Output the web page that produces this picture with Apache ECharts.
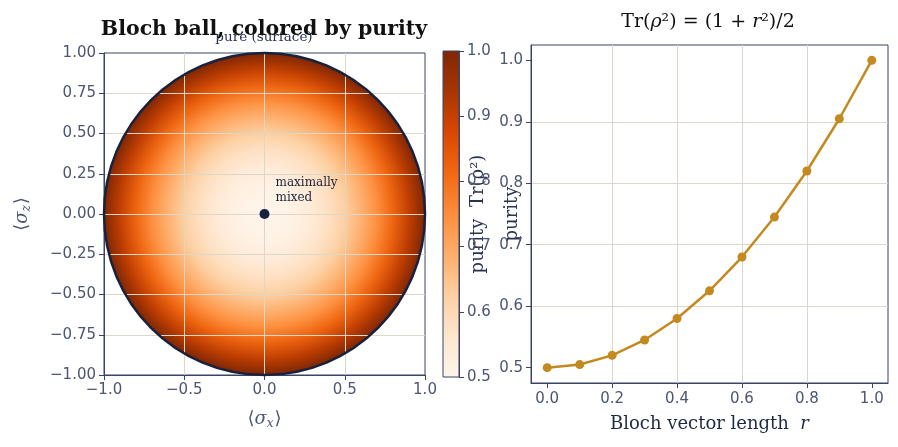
<!DOCTYPE html>
<html><head><meta charset="utf-8">
<script src="https://cdn.jsdelivr.net/npm/echarts@6/dist/echarts.min.js"></script>
<style>html,body{margin:0;padding:0;background:#fff}#c{width:898px;height:447px}</style>
</head><body><div id="c"></div>
<script>
// ---- data ----
const rValues = [0.0, 0.1, 0.2, 0.3, 0.4, 0.5, 0.6, 0.7, 0.8, 0.9, 1.0];
const purityValues = [0.5, 0.505, 0.52, 0.545, 0.58, 0.625, 0.68, 0.745, 0.82, 0.905, 1.0];
const ballCenter = [0, 0];
const ballRadius = 1;
const purityRange = [0.5, 1.0];
const ballXTicks = [-1, -0.5, 0, 0.5, 1];
const ballZTicks = [-1, -0.75, -0.5, -0.25, 0, 0.25, 0.5, 0.75, 1];
const colorbarTicks = [0.5, 0.6, 0.7, 0.8, 0.9, 1.0];
const lineXTicks = [0.0, 0.2, 0.4, 0.6, 0.8, 1.0];
const lineYTicks = [0.5, 0.6, 0.7, 0.8, 0.9, 1.0];
const orangesColors = ['#fff5eb','#fee6ce','#fdd0a2','#fdae6b','#fd8d3c','#f16913','#d94801','#a63603','#7f2704'];

// ---- styles ----
const axisColor = '#3b4466';
const tickLabelColor = '#4b5574';
const gridColor = '#ddd7c7';
const navy = '#18223d';
const lineColor = '#c4891f';
const sans = 'DejaVu Sans';
const serif = 'DejaVu Serif';

function hexToRgb(h){ return [parseInt(h.slice(1,3),16), parseInt(h.slice(3,5),16), parseInt(h.slice(5,7),16)]; }
function cmap(p){
  let t = (p - purityRange[0]) / (purityRange[1] - purityRange[0]);
  t = Math.max(0, Math.min(1, t));
  const pos = t * (orangesColors.length - 1);
  const i = Math.min(Math.floor(pos), orangesColors.length - 2);
  const f = pos - i;
  const a = hexToRgb(orangesColors[i]), b = hexToRgb(orangesColors[i+1]);
  const c = a.map((v, k) => Math.round(v + (b[k] - v) * f));
  return 'rgb(' + c.join(',') + ')';
}
function fmt(v, d){ return (v < -1e-9 ? '\u2212' : '') + Math.abs(v).toFixed(d); }

const diskGradient = {
  type: 'radial', x: 0.5, y: 0.5, r: 0.5,
  colorStops: rValues.map((r, i) => ({ offset: r / ballRadius, color: cmap(purityValues[i]) }))
};
const barGradient = {
  type: 'linear', x: 0, y: 1, x2: 0, y2: 0,
  colorStops: orangesColors.map((c, i) => ({ offset: i / (orangesColors.length - 1), color: c }))
};

const tickLabel = { color: tickLabelColor, fontFamily: sans, fontSize: 15 };
const splitStyle = { show: true, showMinLine: false, showMaxLine: false, lineStyle: { color: gridColor, width: 1 } };
const subRich = {
  b: { fontFamily: sans, fontSize: 18, color: tickLabelColor, lineHeight: 22 },
  i: { fontFamily: serif, fontStyle: 'italic', fontSize: 18, color: tickLabelColor, lineHeight: 22 },
  s: { fontFamily: serif, fontStyle: 'italic', fontSize: 12, color: tickLabelColor, lineHeight: 22, verticalAlign: 'bottom', padding: [0, 1, 0, 0] }
};

const chart = echarts.init(document.getElementById('c'), null, { renderer: 'canvas' });
chart.setOption({
  animation: false,
  backgroundColor: '#ffffff',
  grid: [
    { left: 104, top: 53, width: 321, height: 322, show: true, borderColor: axisColor, borderWidth: 1, backgroundColor: 'transparent' },
    { left: 443, top: 51, width: 16, height: 326, show: true, borderColor: axisColor, borderWidth: 1, backgroundColor: 'transparent' },
    { left: 531, top: 45, width: 357, height: 338, show: true, borderColor: axisColor, borderWidth: 1, backgroundColor: 'transparent' }
  ],
  xAxis: [
    { type: 'value', gridIndex: 0, min: ballXTicks[0], max: ballXTicks[ballXTicks.length-1], interval: 0.5,
      axisLine: { show: true, onZero: false, lineStyle: { color: axisColor } },
      axisTick: { show: true, length: 5, lineStyle: { color: axisColor } },
      axisLabel: Object.assign({ margin: 8, formatter: v => fmt(v, 1) }, tickLabel),
      splitLine: splitStyle,
      name: '{b|\u27e8}{i|\u03c3}{s|x}{b|\u27e9}', nameLocation: 'middle', nameGap: 33, nameMoveOverlap: false,
      nameTextStyle: { rich: subRich } },
    { type: 'value', gridIndex: 1, min: 0, max: 1, show: false },
    { type: 'value', gridIndex: 2, min: -0.05, max: 1.05,
      axisLine: { show: true, onZero: false, lineStyle: { color: axisColor } },
      axisTick: { show: true, length: 5, lineStyle: { color: axisColor }, customValues: lineXTicks },
      axisLabel: Object.assign({ margin: 9, formatter: v => fmt(v, 1), customValues: lineXTicks }, tickLabel),
      splitLine: splitStyle,
      name: 'Bloch vector length  {i|r}', nameLocation: 'middle', nameGap: 32, nameMoveOverlap: false,
      nameTextStyle: { fontFamily: serif, fontSize: 18, color: '#1e2a44',
        rich: { i: { fontFamily: serif, fontStyle: 'italic', fontSize: 18, color: '#1e2a44' } } } }
  ],
  yAxis: [
    { type: 'value', gridIndex: 0, min: ballZTicks[0], max: ballZTicks[ballZTicks.length-1], interval: 0.25,
      axisLine: { show: true, onZero: false, lineStyle: { color: axisColor } },
      axisTick: { show: true, length: 5, lineStyle: { color: axisColor } },
      axisLabel: Object.assign({ margin: 8, formatter: v => fmt(v, 2) }, tickLabel),
      splitLine: splitStyle,
      name: '{b|\u27e8}{i|\u03c3}{s|z}{b|\u27e9}', nameLocation: 'middle', nameGap: 71, nameRotate: 90, nameMoveOverlap: false,
      nameTextStyle: { rich: subRich } },
    { type: 'value', gridIndex: 1, position: 'right', min: purityRange[0], max: purityRange[1], interval: 0.1,
      axisLine: { show: true, onZero: false, lineStyle: { color: axisColor } },
      axisTick: { show: true, length: 5, lineStyle: { color: axisColor } },
      axisLabel: Object.assign({ margin: 8, formatter: v => fmt(v, 1) }, tickLabel),
      splitLine: { show: false },
      name: 'purity  Tr(\u03c1\u00b2)', nameLocation: 'middle', nameGap: 10, nameRotate: 90, nameMoveOverlap: false,
      nameTextStyle: { fontFamily: serif, fontSize: 18, color: '#2a3350' } },
    { type: 'value', gridIndex: 2, min: 0.475, max: 1.025,
      axisLine: { show: true, onZero: false, lineStyle: { color: axisColor } },
      axisTick: { show: true, length: 5, lineStyle: { color: axisColor }, customValues: lineYTicks },
      axisLabel: Object.assign({ margin: 8, formatter: v => fmt(v, 1), customValues: lineYTicks }, tickLabel),
      splitLine: splitStyle,
      name: 'purity', nameLocation: 'middle', nameGap: 10, nameRotate: 90, nameMoveOverlap: false,
      nameTextStyle: { fontFamily: serif, fontSize: 18, color: '#2a3350' } }
  ],
  series: [
    { type: 'custom', name: 'ball', xAxisIndex: 0, yAxisIndex: 0, z: -1, silent: true,
      data: [[ballCenter[0], ballCenter[1], ballRadius]],
      renderItem: (params, api) => {
        const c = api.coord([api.value(0), api.value(1)]);
        const s = api.size([api.value(2), api.value(2)]);
        return { type: 'ellipse', shape: { cx: c[0], cy: c[1], rx: s[0], ry: s[1] }, style: { fill: diskGradient } };
      } },
    { type: 'custom', name: 'surface', xAxisIndex: 0, yAxisIndex: 0, z: 5, silent: true,
      data: [[ballCenter[0], ballCenter[1], ballRadius]],
      renderItem: (params, api) => {
        const c = api.coord([api.value(0), api.value(1)]);
        const s = api.size([api.value(2), api.value(2)]);
        return { type: 'ellipse', shape: { cx: c[0], cy: c[1], rx: s[0], ry: s[1] }, style: { fill: 'none', stroke: navy, lineWidth: 2.5 } };
      } },
    { type: 'scatter', name: 'mixed', xAxisIndex: 0, yAxisIndex: 0, z: 6, silent: true,
      data: [[ballCenter[0], ballCenter[1]]], symbol: 'circle', symbolSize: 10,
      itemStyle: { color: navy, opacity: 1 },
      label: { show: true, position: 'right', formatter: 'maximally\nmixed', offset: [1, -24],
        fontFamily: serif, fontSize: 12, lineHeight: 15, color: navy, align: 'left' } },
    { type: 'custom', name: 'colorbar', xAxisIndex: 1, yAxisIndex: 1, z: -1, silent: true,
      data: [[0, purityRange[0], 1, purityRange[1]]],
      renderItem: (params, api) => {
        const p0 = api.coord([api.value(0), api.value(1)]);
        const p1 = api.coord([api.value(2), api.value(3)]);
        return { type: 'rect', shape: { x: p0[0], y: p1[1], width: p1[0] - p0[0], height: p0[1] - p1[1] }, style: { fill: barGradient } };
      } },
    { type: 'line', name: 'purity', xAxisIndex: 2, yAxisIndex: 2, z: 4,
      data: rValues.map((r, i) => [r, purityValues[i]]),
      symbol: 'circle', symbolSize: 9, showSymbol: true,
      lineStyle: { color: lineColor, width: 2.5 }, itemStyle: { color: lineColor, opacity: 1 } }
  ],
  graphic: [
    { type: 'text', x: 264, y: 37, z: 10, style: { text: 'pure (surface)', fontFamily: serif, fontSize: 13.5, fill: '#2a3350', textAlign: 'center', textVerticalAlign: 'middle' } },
    { type: 'text', x: 264, y: 30, z: 11, style: { text: 'Bloch ball, colored by purity', fontFamily: serif, fontWeight: 'bold', fontSize: 20.5, fill: '#111111', textAlign: 'center', textVerticalAlign: 'middle' } },
    { type: 'text', x: 708, y: 22, z: 11, style: {
        text: 'Tr({i|\u03c1}\u00b2) = (1 + {i|r}\u00b2)/2', fontFamily: serif, fontSize: 19, fill: '#111111', textAlign: 'center', textVerticalAlign: 'middle',
        rich: { i: { fontFamily: serif, fontStyle: 'italic', fontSize: 19, fill: '#111111' } } } }
  ]
});
</script></body></html>
